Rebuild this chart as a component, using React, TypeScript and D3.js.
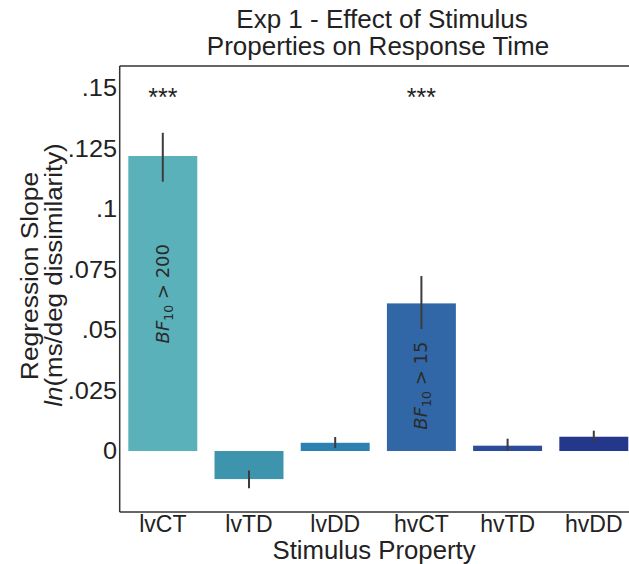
import React from "react";
import * as d3 from "d3";

const categories = ["lvCT", "lvTD", "lvDD", "hvCT", "hvTD", "hvDD"];
const values = [0.1219, -0.0116, 0.0034, 0.061, 0.0022, 0.0059];
const ciLow = [0.1113, -0.0154, 0.0012, 0.0504, 0.0, 0.0038];
const ciHigh = [0.1315, -0.008, 0.0058, 0.0723, 0.0051, 0.0084];
const colors = ["#5bb1b9", "#3f94ad", "#2e80b0", "#3167a6", "#2c4b9a", "#24378a"];
const yTicks = [0, 0.025, 0.05, 0.075, 0.1, 0.125, 0.15];
const yTickLabels = ["0", ".025", ".05", ".075", ".1", ".125", ".15"];
const sigMarks = [{ cat: "lvCT", text: "***" }, { cat: "hvCT", text: "***" }];
const bfMarks = [
  { cat: "lvCT", value: 0.065, rest: " > 200" },
  { cat: "hvCT", value: 0.027, rest: " > 15" },
];
const titleLines = ["Exp 1 - Effect of Stimulus", "Properties on Response Time"];

const font = "'Liberation Sans', Arial, sans-serif";

function T(props: { x: number; y: number; size: number; sx?: number; rot?: number; anchor?: string; children: any; dy?: string }) {
  const { x, y, size, sx = 1, rot = 0, anchor = "middle", children, dy } = props;
  return (
    <g transform={`translate(${x},${y}) rotate(${rot}) scale(${sx},1)`}>
      <text x={0} y={0} dy={dy} textAnchor={anchor} fontFamily={font} fontSize={size} fill="#222">{children}</text>
    </g>
  );
}

export default function App() {
  const W = 629, H = 564;
  const left = 119.7, right = 636.9, top = 66, bottom = 512;
  const x = d3.scaleBand<string>().domain(categories).range([left, right]).paddingInner(0.2).paddingOuter(0.1);
  const y = d3.scaleLinear().domain([-0.0252, 0.1591]).range([bottom, top]);
  const frame = "#333";
  const cx = (c: string) => x(c)! + x.bandwidth() / 2;
  return (
    <svg width={W} height={H} style={{ position: "absolute", left: 0, top: 0, background: "#fff" }}>
      <rect x={0} y={0} width={W} height={H} fill="#fff" />
      {categories.map((c, i) => {
        const v = values[i];
        return (
          <rect key={c} x={x(c)} width={x.bandwidth()} y={y(Math.max(0, v))}
            height={Math.abs(y(v) - y(0))} fill={colors[i]} />
        );
      })}
      {categories.map((c, i) => (
        <line key={"e" + c} x1={cx(c)} x2={cx(c)}
          y1={y(ciLow[i])} y2={y(ciHigh[i])} stroke="#3c3c3c" strokeWidth={2} />
      ))}
      {/* frame */}
      <line x1={left} x2={W} y1={top} y2={top} stroke={frame} strokeWidth={1.5} />
      <line x1={left} x2={W} y1={bottom} y2={bottom} stroke={frame} strokeWidth={1.5} />
      <line x1={left} x2={left} y1={top} y2={bottom} stroke={frame} strokeWidth={1.5} />
      {/* y ticks */}
      {yTicks.map((t, i) => (
        <T key={"y" + i} x={117} y={y(t)} dy="0.36em" anchor="end" size={23} sx={1.1}>{yTickLabels[i]}</T>
      ))}
      {/* x ticks */}
      {categories.map((c) => (
        <T key={"x" + c} x={cx(c)} y={532} size={23}>{c}</T>
      ))}
      <T x={374} y={559} size={25} sx={1.03}>Stimulus Property</T>
      {/* y label */}
      <T x={38} y={276} rot={-90} size={24} sx={1.1}>Regression Slope</T>
      <T x={62} y={275} rot={-90} size={24} sx={1.08}>
        <tspan fontStyle="italic">ln</tspan>(ms/deg dissimilarity)
      </T>
      {/* title */}
      <T x={382} y={28} size={25} sx={1.04}>{titleLines[0]}</T>
      <T x={378} y={55} size={25} sx={1.04}>{titleLines[1]}</T>
      {/* significance */}
      {sigMarks.map((s) => (
        <T key={"s" + s.cat} x={cx(s.cat)} y={106} size={25}>{s.text}</T>
      ))}
      {/* BF annotations */}
      {bfMarks.map((b) => (
        <g key={"b" + b.cat} transform={`translate(${cx(b.cat) + 6},${y(b.value)}) rotate(-90)`}>
          <text x={0} y={0} textAnchor="middle" fontFamily="'DejaVu Sans', sans-serif" fontSize={18} fill="#2a2a2a">
            <tspan fontStyle="italic">BF</tspan>
            <tspan fontSize={12.5} dy={4}>10</tspan>
            <tspan dy={-4}>{b.rest}</tspan>
          </text>
        </g>
      ))}
    </svg>
  );
}
